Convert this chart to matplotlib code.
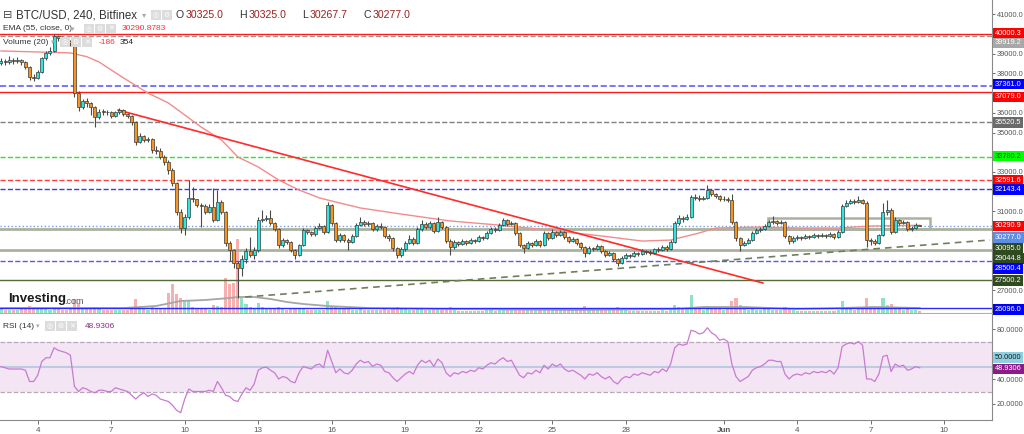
import numpy as np
import matplotlib
matplotlib.use('Agg')
import matplotlib.pyplot as plt
from matplotlib.patches import Rectangle
from matplotlib.ticker import FormatStrFormatter

plt.rcParams['font.family'] = ['Liberation Sans', 'DejaVu Sans']

### Data: BTC/USD 4h candles, 2 May 12:00 -> 9 Jun 00:00 (one row per day)
open0 = 38550
close = [
    38650, 38600, 38700,                        # May 2
    38640, 38680, 38600, 38350, 37820, 37760,   # May 3
    38060, 38780, 39040, 39150, 39880, 39800,   # May 4
    39780, 39640, 39520, 37000, 36300, 36600,   # May 5
    36500, 36300, 35800, 36060, 36050, 36040,   # May 6
    35850, 36050, 36140, 35950, 35850, 35530,   # May 7
    34520, 34800, 34620, 34650, 34100, 34060,   # May 8
    33760, 33500, 33100, 32440, 30970, 30150,   # May 9
    30710, 31680, 31600, 31320, 31250, 30970,   # May 10
    31220, 30560, 31470, 30970, 29390, 29040,   # May 11
    28400, 28100, 28600, 29000, 28800, 29040,   # May 12
    30560, 30600, 30660, 30400, 30100, 29290,   # May 13
    29540, 29450, 29040, 28800, 29290, 30050,   # May 14
    29950, 29850, 30150, 30250, 29950, 31320,   # May 15
    30400, 29540, 29800, 29540, 29450, 29750,   # May 16
    30300, 30450, 30350, 30400, 30100, 30250,   # May 17
    30200, 29750, 29650, 29150, 28800, 29100,   # May 18
    29400, 29600, 29400, 30100, 30350, 30200,   # May 19
    30400, 30000, 30450, 30200, 29500, 29200,   # May 20
    29450, 29350, 29500, 29400, 29550, 29500,   # May 21
    29700, 29650, 29900, 30100, 30050, 30300,   # May 22
    30550, 30350, 30400, 29900, 29300, 29150,   # May 23
    29400, 29300, 29500, 29300, 29900, 29650,   # May 24
    29950, 29800, 29950, 29700, 29500, 29600,   # May 25
    29400, 29200, 28900, 29150, 29100, 29250,   # May 26
    29000, 28800, 28900, 28600, 28400, 28650,   # May 27
    28800, 28750, 28900, 28850, 29000, 28950,   # May 28
    28900, 29080, 29050, 29200, 29100, 29440,   # May 29
    30400, 30660, 30600, 30710, 31730, 31700,   # May 30
    31650, 31700, 32080, 31900, 31800, 31600,   # May 31
    31650, 31570, 30460, 29640, 29290, 29400,   # Jun 1
    29550, 29900, 30050, 30100, 30250, 30450,   # Jun 2
    30500, 30420, 30450, 29750, 29500, 29650,   # Jun 3
    29700, 29650, 29750, 29700, 29800, 29750,   # Jun 4
    29800, 29750, 29850, 29700, 29950, 31260,   # Jun 5
    31400, 31500, 31450, 31550, 31420, 29540,   # Jun 6
    29500, 29400, 29800, 30970, 31050, 29950,   # Jun 7
    30550, 30400, 30450, 30100, 30150, 30325,   # Jun 8
    30277,                                      # Jun 9
]
high = [
    38800, 38750, 38900,
    38800, 38850, 38750, 38650, 38400, 37950,
    38150, 38850, 39150, 39350, 40000, 39950,
    39900, 39820, 39700, 39600, 37100, 36700,
    36750, 36550, 36350, 36200, 36200, 36150,
    36100, 36100, 36250, 36180, 36000, 35900,
    35600, 34950, 34850, 34750, 34700, 34300,
    34200, 33850, 33600, 33200, 32500, 31100,
    30850, 32590, 32240, 31650, 31400, 31350,
    31350, 32180, 32080, 31550, 31000, 29500,
    29100, 28500, 28800, 29150, 29700, 29200,
    30700, 31050, 30800, 31070, 30450, 30150,
    29650, 29600, 29500, 29100, 29350, 30150,
    30100, 30000, 30250, 30400, 30300, 31450,
    31380, 30450, 29900, 29850, 29650, 29850,
    30400, 30700, 30550, 30500, 30450, 30350,
    30400, 30250, 29850, 29700, 29200, 29200,
    29500, 29800, 29700, 30200, 30550, 30450,
    30500, 30450, 30700, 30500, 30250, 29600,
    29550, 29500, 29600, 29550, 29650, 29600,
    29800, 29750, 30000, 30200, 30200, 30400,
    30680, 30600, 30500, 30450, 29950, 29350,
    29500, 29450, 29600, 29550, 30000, 29950,
    30100, 30000, 30050, 30000, 29750, 29700,
    29650, 29450, 29250, 29250, 29200, 29350,
    29300, 29050, 29000, 28950, 28650, 28750,
    28900, 28850, 29000, 28950, 29100, 29050,
    29050, 29150, 29200, 29300, 29300, 29550,
    30500, 30800, 30750, 30850, 31850, 31900,
    31850, 31800, 32330, 32150, 31950, 31850,
    31800, 31750, 31900, 30500, 29700, 29500,
    29650, 30000, 30150, 30200, 30350, 30550,
    30750, 30550, 30550, 30500, 29800, 29750,
    29800, 29750, 29850, 29800, 29900, 29850,
    29900, 29850, 29950, 29900, 30050, 31350,
    31550, 31600, 31650, 31800, 31650, 31500,
    29650, 29600, 29850, 31420, 31570, 31150,
    30700, 30600, 30550, 30500, 30250, 30400,
    30325,
]
low = [
    38450, 38450, 38500,
    38500, 38550, 38450, 38200, 37650, 37600,
    37700, 38000, 38700, 38950, 39100, 39650,
    39650, 39550, 39400, 36800, 36100, 36200,
    36300, 35900, 35300, 35700, 35900, 35900,
    35750, 35800, 35950, 35850, 35750, 35400,
    34350, 34450, 34500, 34500, 33950, 33900,
    33650, 33350, 32900, 32300, 30800, 29900,
    29800, 30600, 31450, 31200, 30200, 30850,
    30900, 30450, 30500, 30850, 29250, 28500,
    28100, 26600, 27700, 28400, 28700, 28600,
    28950, 30450, 30500, 30300, 30000, 29150,
    29200, 29350, 28950, 28600, 28750, 29250,
    29850, 29750, 29750, 30100, 29850, 29900,
    30300, 29450, 29450, 29450, 29050, 29400,
    29700, 30250, 30250, 30250, 30000, 30000,
    30100, 29650, 29500, 29000, 28650, 28700,
    29000, 29350, 29300, 29350, 30000, 30100,
    30100, 29900, 29950, 30100, 29400, 28800,
    29100, 29250, 29300, 29300, 29350, 29400,
    29450, 29550, 29600, 29850, 29950, 30000,
    30250, 30250, 30300, 29800, 29200, 28900,
    29100, 29200, 29250, 29200, 29250, 29550,
    29600, 29700, 29750, 29600, 29400, 29450,
    29300, 29100, 28700, 28850, 29000, 29050,
    28900, 28700, 28750, 28500, 28200, 28350,
    28600, 28650, 28700, 28750, 28800, 28850,
    28800, 28850, 28950, 29000, 29000, 29050,
    29400, 30300, 30450, 30550, 30650, 31550,
    31500, 31550, 31600, 31800, 31700, 31500,
    31500, 31450, 30350, 29500, 29000, 29250,
    29350, 29500, 29850, 29950, 30050, 30200,
    30350, 30300, 30350, 29650, 29350, 29400,
    29550, 29550, 29600, 29600, 29650, 29650,
    29700, 29650, 29700, 29600, 29650, 29900,
    31200, 31350, 31350, 31400, 31350, 29190,
    29300, 29300, 29350, 29750, 30800, 29850,
    29900, 30300, 30350, 30000, 30000, 30100,
    30268,
]
volume = [
    4, 3, 3,
    3, 3, 4, 5, 7, 4,
    4, 5, 4, 3, 6, 4,
    3, 3, 4, 14, 10, 5,
    4, 5, 6, 4, 3, 3,
    3, 3, 3, 3, 3, 5,
    14, 5, 4, 3, 6, 4,
    5, 5, 20, 29, 19, 15,
    13, 12, 6, 4, 5, 4,
    3, 8, 7, 6, 35, 29,
    30, 74, 15, 9, 6, 5,
    10, 6, 5, 5, 4, 6,
    4, 3, 4, 4, 4, 5,
    3, 3, 3, 3, 3, 12,
    7, 6, 4, 4, 5, 3,
    3, 4, 3, 3, 3, 3,
    3, 4, 3, 5, 6, 4,
    4, 3, 3, 5, 4, 3,
    3, 4, 4, 3, 5, 6,
    3, 2, 2, 2, 2, 2,
    2, 2, 3, 3, 2, 3,
    4, 3, 3, 4, 5, 4,
    4, 3, 3, 3, 5, 3,
    4, 3, 3, 3, 4, 3,
    4, 4, 7, 5, 3, 3,
    4, 4, 3, 5, 6, 4,
    3, 2, 2, 2, 2, 2,
    2, 2, 2, 3, 2, 4,
    8, 6, 4, 4, 18, 5,
    4, 3, 7, 5, 4, 4,
    3, 4, 12, 15, 8, 4,
    3, 4, 3, 3, 4, 4,
    3, 3, 3, 6, 5, 3,
    2, 2, 2, 2, 2, 2,
    2, 2, 2, 2, 3, 12,
    5, 4, 3, 4, 4, 15,
    6, 4, 4, 15, 8, 9,
    5, 4, 3, 4, 3, 3,
    2,
]
rsi = [
    50, 49, 48,
    48, 48, 48, 47, 38, 38,
    43, 54, 57, 57, 65, 63,
    62, 61, 59, 34, 30, 33,
    32, 30, 29, 31, 31, 30,
    30, 33, 32, 31, 30, 27,
    24, 27, 29, 26, 28, 27,
    24, 23, 22, 19, 15, 13,
    24, 32, 30, 30, 30, 30,
    31, 30, 38, 33, 27, 26,
    23, 22, 28, 33, 31, 36,
    47, 49, 49.5, 47, 45, 40,
    42, 41, 38, 37, 45, 50,
    49, 48, 51, 52, 49, 63,
    54, 45, 48, 45, 44, 47,
    52, 55, 53, 54, 50, 52,
    51, 46, 45, 41, 38, 41,
    44, 46, 44, 51, 55, 53,
    55, 50, 56, 53, 45, 42,
    45, 44, 46, 45, 47, 46,
    49, 48, 51, 53, 52, 55,
    57, 54, 55, 49, 43, 41,
    45, 44, 47, 45, 51, 48,
    52, 50, 52, 48, 46, 47,
    45, 43, 40, 44, 43, 45,
    42, 40, 42, 38, 36, 40,
    42, 41, 44, 43, 45, 44,
    43, 46, 45, 48, 46, 52,
    65, 68, 67, 68, 79, 78,
    76, 77, 81, 77, 75, 71,
    72, 70, 52, 42, 38, 40,
    42, 47, 49, 50, 52, 55,
    55, 54, 54, 44, 40, 43,
    44, 43, 45, 44, 46, 45,
    46, 45, 47, 44, 49, 66,
    68, 69, 68, 70, 67, 40,
    40, 38, 44, 58, 59, 46,
    52, 50, 51, 47, 48, 50,
    48.93,
]
ema_i = [0, 17, 21, 24, 30, 36, 41, 49, 54, 58, 63, 68, 73, 78, 83, 88, 98, 110,
         122, 134, 147, 157, 164, 171, 175, 186, 196, 205, 213, 225]
ema_v = [39140, 39040, 38850, 38580, 37770, 37000, 36500, 35280, 34620, 33760,
         33250, 32590, 32080, 31680, 31420, 31170, 30860, 30510, 30300, 30050,
         29750, 29490, 29540, 29900, 30150, 30200, 30150, 30150, 30250, 30291]
vma_i = [0, 30, 38, 44, 50, 56, 58, 62, 66, 70, 74, 80, 90, 110, 140, 165, 172,
         182, 195, 206, 214, 225]
vma_v = [5, 5, 7, 12, 13, 15, 16, 16, 14, 11, 9, 7, 5, 4, 3, 4, 6, 6, 4, 5, 6, 5]

# horizontal drawings: price, colour, style, width
levels = [
    (40000.3, '#ff1a1a', '-', 1.0),
    (39919.2, '#9a9a9a', '--', 1.0),
    (37361.0, '#6060ff', '--', 1.2),
    (37079.0, '#ff1a1a', '-', 1.0),
    (35520.5, '#808080', '--', 1.0),
    (33780.2, '#22ee22', '--', 1.0),
    (32591.6, '#ff4040', '--', 1.0),
    (32143.4, '#3a3aee', '--', 1.0),
    (30277.0, '#7a9ae8', ':', 1.0),
    (30095.0, '#a9b39f', '-', 2.0),
    (29044.8, '#a9b39f', '-', 2.0),
    (28500.4, '#5a5af0', '--', 1.0),
    (27500.2, '#556b3a', '-', 1.0),
    (26096.0, '#2a2aff', '-', 1.0),
]
# right-axis value tags: text, pixel y, background, text colour
tags = [
    ('40000.3', 33.5, '#ff0000', 'white'),
    ('39919.2', 43.0, '#a8a8a8', 'white'),
    ('37361.0', 84.0, '#0000ff', 'white'),
    ('37079.0', 97.0, '#ff0000', 'white'),
    ('35520.5', 122.3, '#6a6a6a', 'white'),
    ('33780.2', 156.0, '#00ff00', '#1a3a1a'),
    ('32591.6', 180.0, '#ff0000', 'white'),
    ('32143.4', 189.7, '#0000ff', 'white'),
    ('30290.9', 226.0, '#ff0000', 'white'),
    ('30277.0', 237.3, '#5b8ee6', 'white'),
    ('30095.0', 248.0, '#2e4a1e', 'white'),
    ('29044.8', 258.3, '#2e4a1e', 'white'),
    ('28500.4', 268.3, '#0000ff', 'white'),
    ('27500.2', 280.7, '#2e4a1e', 'white'),
    ('26096.0', 309.3, '#0000ff', 'white'),
    ('50.0000', 357.3, '#8fd0e0', '#1a1a1a'),
    ('48.9306', 369.0, '#8b1a8b', 'white'),
]
# price / rsi axis labels that are not hidden behind a tag
price_ticks = [27000, 31000, 33000, 35000, 36000, 38000, 39000, 41000]
rsi_ticks = [20, 40, 80]
day_ticks = [9, 27, 45, 63, 81, 99, 117, 135, 153, 177, 195, 213, 231]
day_labels = ['4', '7', '10', '13', '16', '19', '22', '25', '28', 'Jun', '4', '7', '10']

### Layout helpers (pixel -> figure fraction)
W, H = 1024, 434
def fx(x):
    return x / W
def fy(y):
    return 1 - y / H

fig = plt.figure(figsize=(W/100, H/100), dpi=100)
fig.patch.set_facecolor('white')

n = len(close)
idx = np.arange(n)
c = np.array(close, float)
o = np.concatenate([[open0], c[:-1]])
hi = np.array(high, float)
lo = np.array(low, float)
up = c >= o

xlim = (-0.24, 242.7)
main_rect = [0, fy(313), fx(992), 313/H]
rsi_rect = [0, fy(420), fx(992), 106/H]

## Volume (behind the candles)
axv = fig.add_axes(main_rect)
axv.set_xlim(*xlim)
axv.set_ylim(0, 313)
axv.axis('off')
axv.bar(idx, volume, width=0.75, color=np.where(up, '#8fe3c4', '#f6b0b0'), linewidth=0)
axv.plot(vma_i, vma_v, color='#a6a6a6', lw=1.3)

## Price pane
ax = fig.add_axes(main_rect, facecolor='none')
ax.set_xlim(*xlim)
ax.set_ylim(25838, 41726)

for val, col, ls, lw in levels:
    ax.axhline(val, color=col, ls=ls, lw=lw, zorder=1)

ax.add_patch(Rectangle((187.9, 30095), 39.6, 565, fill=False, ec='#a9b39f', lw=1.8, zorder=1))
ax.plot(ema_i, ema_v, color='#f28c8c', lw=1.0, zorder=2)
ax.plot([28.7, 186.6], [36140, 27360], color='#ff2a2a', lw=1.2, zorder=2)
ax.plot([59.8, 242.2], [26650, 29543], color='#6f7f5c', ls=(0, (4, 3)), lw=1.2, zorder=2)

ax.vlines(idx, lo, hi, color='#4a4a4a', lw=0.8, zorder=3)
body_lo = np.minimum(o, c)
body_h = np.maximum(np.abs(c - o), 25)
ax.bar(idx, body_h, bottom=body_lo, width=0.74,
       color=np.where(up, '#2ee6df', '#f7931e'), edgecolor='#3a3a3a', linewidth=0.5, zorder=4)

ax.yaxis.tick_right()
ax.set_yticks(price_ticks)
ax.yaxis.set_major_formatter(FormatStrFormatter('%.1f'))
ax.tick_params(axis='y', labelsize=5.3, colors='#555555', length=2, pad=1.5, width=0.6)
ax.set_xticks([])
for s in ['top', 'left']:
    ax.spines[s].set_visible(False)
ax.spines['right'].set_color('#8a8a8a')
ax.spines['bottom'].set_color('#b0b0b0')

## RSI pane
axr = fig.add_axes(rsi_rect)
axr.set_xlim(*xlim)
axr.set_ylim(7.2, 92)
axr.fill_between(xlim, 30, 70, color='#f3e5f4', lw=0)
axr.axhline(70, color='#b8a8b8', ls='--', lw=0.9)
axr.axhline(30, color='#b8a8b8', ls='--', lw=0.9)
axr.axhline(50, color='#bccbe2', lw=1.5)
axr.plot(idx, rsi, color='#c97ad2', lw=0.9)
axr.yaxis.tick_right()
axr.set_yticks(rsi_ticks)
axr.yaxis.set_major_formatter(FormatStrFormatter('%.4f'))
axr.tick_params(axis='y', labelsize=5.3, colors='#555555', length=2, pad=1.5, width=0.6)
axr.set_xticks(day_ticks)
axr.set_xticklabels(day_labels)
axr.tick_params(axis='x', labelsize=5.8, colors='#555555', length=3, pad=2, width=0.6)
axr.get_xticklabels()[9].set_fontweight('bold')
for s in ['top', 'left']:
    axr.spines[s].set_visible(False)
axr.spines['right'].set_color('#8a8a8a')
axr.spines['bottom'].set_color('#8a8a8a')

## Value tags on the right axis
for txt, ypx, bg, fg in tags:
    fig.text(fx(995), fy(ypx), txt, fontsize=5.3, color=fg, va='center', ha='left',
             bbox=dict(boxstyle='square,pad=0.25', fc=bg, ec='none'))

## Header / legend texts
def icons(x0, y, count):
    glyphs = ['◎', '⚙', '✕']
    for k in range(count):
        fig.patches.append(Rectangle((fx(x0 + k*11), fy(y + 5)), fx(9.5), 10/H,
                                     transform=fig.transFigure, fc='#dcdcdc', ec='none'))
        fig.text(fx(x0 + k*11 + 4.75), fy(y), glyphs[k], fontsize=5, color='white',
                 ha='center', va='center', family='DejaVu Sans')

fig.text(fx(3), fy(15), '⊟', fontsize=8, color='#444', va='center', family='DejaVu Sans')
fig.text(fx(16), fy(15), 'BTC/USD, 240, Bitfinex', fontsize=8.3, color='#333', va='center')
fig.text(fx(142), fy(15), '▾', fontsize=6, color='#aaa', va='center', family='DejaVu Sans')
icons(151, 15, 2)
ohlc = [('O', '30325.0', 176, 10), ('H', '30325.0', 239, 10), ('L', '30267.7', 302, 8),
        ('C', '30277.0', 363, 10)]
for lab, val, x0, dx in ohlc:
    fig.text(fx(x0), fy(15), lab, fontsize=7.6, color='#333', va='center')
    fig.text(fx(x0 + dx), fy(15), val, fontsize=7.6, color='#9b1f1f', va='center')

fig.text(fx(3), fy(29), 'EMA (55, close, 0)', fontsize=6, color='#333', va='center')
fig.text(fx(71), fy(29), '▾', fontsize=5, color='#aaa', va='center', family='DejaVu Sans')
icons(84, 29, 3)
fig.text(fx(122), fy(29), '30290.8783', fontsize=6, color='#ff3030', va='center')

fig.text(fx(3), fy(42), 'Volume (20)', fontsize=6, color='#333', va='center')
fig.text(fx(51), fy(42), '▾', fontsize=5, color='#aaa', va='center', family='DejaVu Sans')
icons(60, 42, 3)
fig.text(fx(99), fy(42), '-186', fontsize=6, color='#ff3030', va='center')
fig.text(fx(120), fy(42), '354', fontsize=6, color='#222', va='center')

fig.text(fx(3), fy(326), 'RSI (14)', fontsize=6, color='#333', va='center')
fig.text(fx(36), fy(326), '▾', fontsize=5, color='#aaa', va='center', family='DejaVu Sans')
icons(45, 326, 3)
fig.text(fx(85), fy(326), '48.9306', fontsize=6, color='#8b2a8b', va='center')

fig.text(fx(8), fy(299), 'Investing', fontsize=9.5, weight='bold', color='#1a1a1a', va='center')
fig.text(fx(64), fy(301), '.com', fontsize=6.5, color='#555', va='center')

fig.savefig('out.png', dpi=100)
